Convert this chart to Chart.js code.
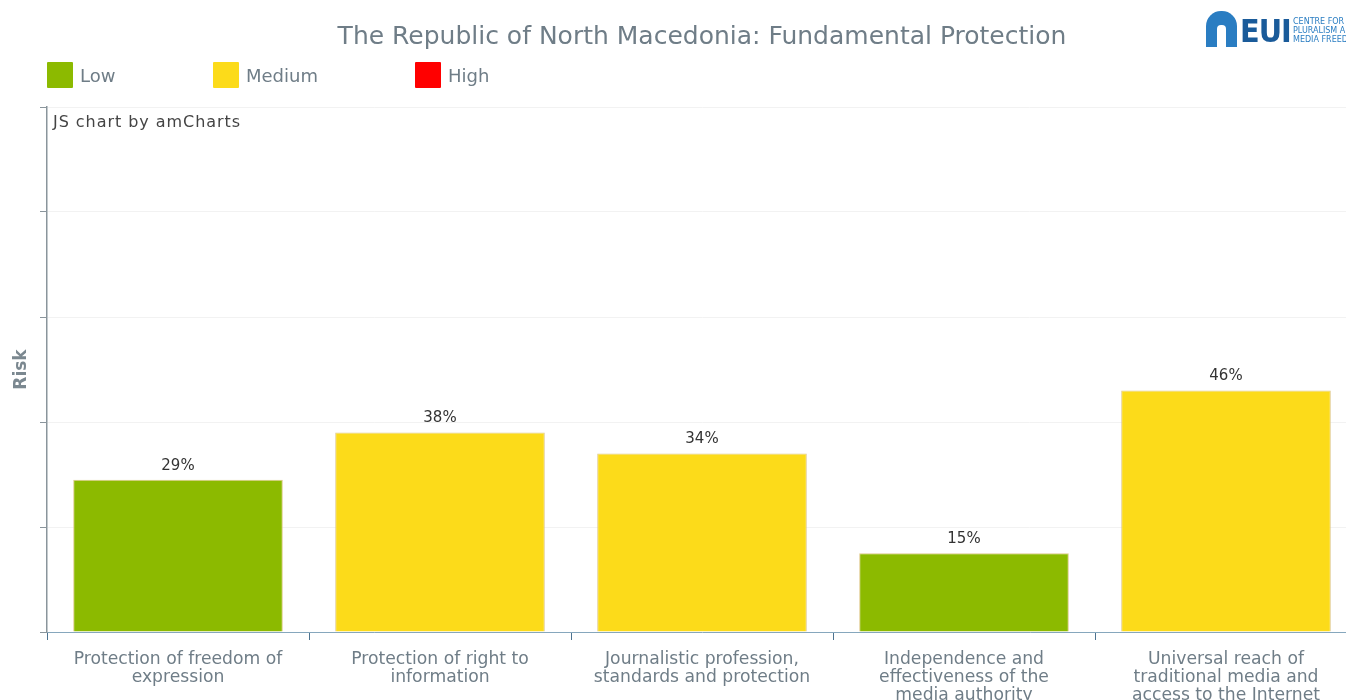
<!DOCTYPE html>
<html>
<head>
<meta charset="utf-8">
<script src="https://cdn.jsdelivr.net/npm/chart.js@4/dist/chart.umd.min.js"></script>
<style>
  html, body { margin: 0; padding: 0; background: #fff; overflow: hidden; width: 1346px; height: 700px; }
  body { position: relative; font-family: "DejaVu Sans", Verdana, sans-serif; }
  #wrap { position: absolute; left: 0; top: 0; width: 1360px; height: 700px; }
  .title { position: absolute; top: 21px; left: 0; width: 1404px; text-align: center; font-size: 25px; color: #6f7d87; }
  .legend { position: absolute; top: 62px; font-size: 18px; color: #6f7d87; }
  .legend span.sw { display: inline-block; width: 26px; height: 26px; vertical-align: middle; margin-right: 7px; border-radius: 1px; }
  .legend span.tx { vertical-align: middle; }
  .credit { position: absolute; left: 53px; top: 112px; font-size: 16px; letter-spacing: 0.95px; color: #444; }
  .logo { position: absolute; left: 1206px; top: 10px; height: 38px; }
  .arch { position: absolute; left: 0; top: 1px; width: 31px; height: 36px; background: #2a7dc2; border-radius: 15px 15px 0 0; }
  .arch i { position: absolute; left: 11px; top: 14px; width: 9px; height: 22px; background: #fff; border-radius: 4px 4px 0 0; }
  .eui { position: absolute; left: 34px; top: 4px; font: bold 32px "DejaVu Sans Condensed", "DejaVu Sans", sans-serif; color: #1a5b9a; letter-spacing: -1px; line-height: 34px; }
  .sub { position: absolute; left: 87px; top: 7px; font-size: 8px; line-height: 9px; color: #2a7dc2; white-space: nowrap; }
</style>
</head>
<body>
<div id="wrap"><canvas id="chart" width="1360" height="700"></canvas></div>
<div class="title">The Republic of North Macedonia: Fundamental Protection</div>
<div class="legend" style="left:47px"><span class="sw" style="background:#8cba00"></span><span class="tx">Low</span></div>
<div class="legend" style="left:213px"><span class="sw" style="background:#fcdb1a"></span><span class="tx">Medium</span></div>
<div class="legend" style="left:415px"><span class="sw" style="background:#ff0000"></span><span class="tx">High</span></div>
<div class="credit">JS chart by amCharts</div>
<div class="logo">
  <div class="arch"><i></i></div>
  <div class="eui">EUI</div>
  <div class="sub">CENTRE FOR MEDIA<br>PLURALISM AND<br>MEDIA FREEDOM</div>
</div>
<script>
// ===============================
// DATA
// ===============================
const categories = [
  ["Protection of freedom of", "expression"],
  ["Protection of right to", "information"],
  ["Journalistic profession,", "standards and protection"],
  ["Independence and", "effectiveness of the", "media authority"],
  ["Universal reach of", "traditional media and", "access to the Internet"]
];
const riskValues = [29, 38, 34, 15, 46];
const riskLevels = ["Low", "Medium", "Medium", "Low", "Medium"];
const yTicks = [0, 20, 40, 60, 80, 100];

const levelColors = { Low: "#8cba00", Medium: "#fcdb1a", High: "#ff0000" };

// value labels above each bar
const valueLabels = {
  id: "valueLabels",
  afterDatasetsDraw(chart) {
    const ctx = chart.ctx;
    const meta = chart.getDatasetMeta(0);
    ctx.save();
    ctx.font = '15px "DejaVu Sans", sans-serif';
    ctx.fillStyle = "#333";
    ctx.textAlign = "center";
    ctx.textBaseline = "middle";
    meta.data.forEach((bar, i) => {
      ctx.fillText(riskValues[i] + "%", bar.x, bar.y - 14);
    });
    ctx.restore();
  }
};

new Chart(document.getElementById("chart"), {
  type: "bar",
  data: {
    labels: categories,
    datasets: [{
      data: riskValues,
      backgroundColor: riskLevels.map(l => levelColors[l]),
      borderColor: "#e0c98a",
      borderWidth: 1,
      categoryPercentage: 0.8,
      barPercentage: 1
    }]
  },
  options: {
    responsive: false,
    animation: false,
    layout: { padding: { top: 107, left: 0, right: 3, bottom: 0 } },
    plugins: { legend: { display: false }, tooltip: { enabled: false } },
    scales: {
      x: {
        offset: true,
        afterFit: s => { s.height = 68; },
        grid: { offset: true, drawOnChartArea: false, drawTicks: true, tickLength: 8, tickColor: "#4d7390" },
        border: { color: "#86a7bd", width: 1 },
        ticks: {
          color: "#6f7d87",
          font: { family: "DejaVu Sans", size: 17.2, lineHeight: 1.06 },
          padding: 10,
          maxRotation: 0,
          autoSkip: false
        }
      },
      y: {
        min: 0,
        max: 100,
        afterFit: s => { s.width = 47; },
        afterBuildTicks: s => { s.ticks = yTicks.map(v => ({ value: v })); },
        grid: { color: "#f2f2f2", tickLength: 7, tickColor: "#8a959c" },
        border: { color: "#8a959c", width: 1.5 },
        ticks: { display: false },
        title: {
          display: true,
          text: "Risk",
          color: "#7b8890",
          font: { family: "DejaVu Sans", size: 17, weight: "bold" },
          padding: { top: 11 }
        }
      }
    }
  },
  plugins: [valueLabels]
});
</script>
</body>
</html>
